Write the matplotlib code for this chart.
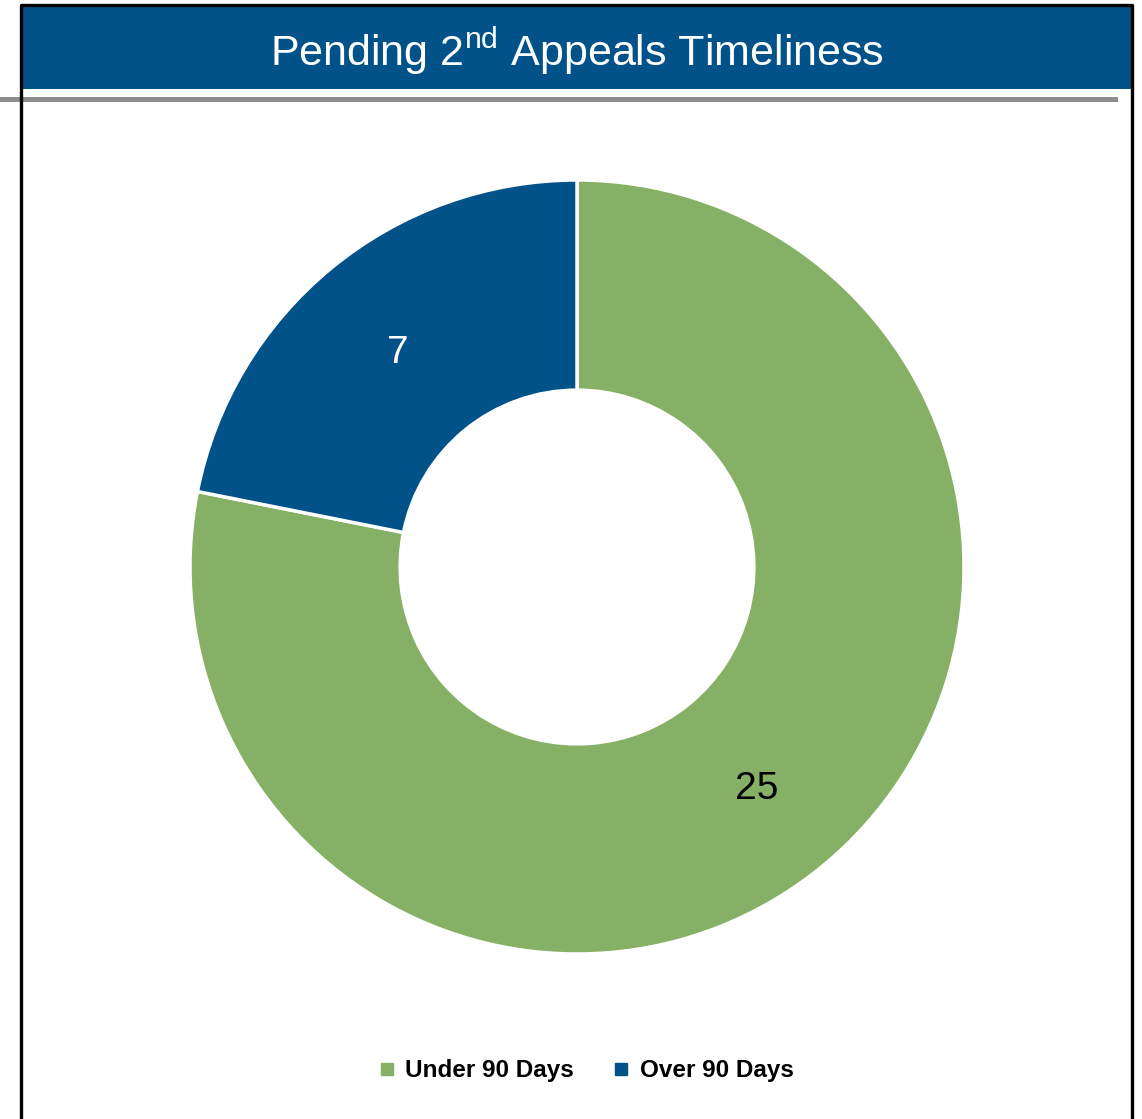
import matplotlib.pyplot as plt
from matplotlib.lines import Line2D
from matplotlib.patches import Rectangle

categories = ["Under 90 Days", "Over 90 Days"]
values = [25, 7]
colors = ["#86B065", "#02528A"]
label_colors = ["black", "white"]
title = r"Pending 2$^{\mathregular{nd}}$ Appeals Timeliness"

W, H = 1142, 1119
fig = plt.figure(figsize=(W / 100, H / 100), dpi=100)
plt.rcParams['font.family'] = ['Liberation Sans', 'DejaVu Sans']


def fx(px):
    return px / W


def fy(py):
    return 1 - py / H


# header band, grey rule and frame
fig.patches.append(Rectangle((fx(22), fy(89)), fx(1110), 83 / H, transform=fig.transFigure,
                             facecolor="#02528A", edgecolor="none", zorder=0))
fig.lines.append(Line2D([fx(0), fx(1115)], [fy(99), fy(99)], transform=fig.transFigure,
                        color="#8E8E90", lw=3.6))
fig.lines.append(Line2D([fx(21), fx(21), fx(1132), fx(1132)], [fy(1119), fy(5), fy(5), fy(1119)],
                        transform=fig.transFigure, color="black", lw=2.4))
fig.text(fx(577), fy(51), title, color="white", fontsize=31, ha="center", va="center")

# donut
cx, cy, r = 577, 567, 387
ax = fig.add_axes([fx(cx - r), fy(cy + r), 2 * r / W, 2 * r / H])
total = sum(values)
wedges, texts, autotexts = ax.pie(values, colors=colors, startangle=90, counterclock=False,
                                  radius=1, wedgeprops=dict(width=0.543, edgecolor="white", linewidth=2.5),
                                  autopct=lambda p: "%d" % round(p * total / 100), pctdistance=0.73)
for t, c in zip(autotexts, label_colors):
    t.set_color(c)
    t.set_fontsize(28)
    t.set_va("center_baseline")
ax.set_xlim(-1, 1)
ax.set_ylim(-1, 1)
ax.axis("off")

handles = [Line2D([], [], marker="s", linestyle="none", markersize=8, markerfacecolor=c,
                  markeredgecolor=c) for c in colors]
fig.legend(handles, categories, loc="center", bbox_to_anchor=(fx(586), fy(1071)), ncol=2,
           frameon=False, prop=dict(weight="bold", size=17.5), handlelength=0.7,
           handletextpad=0.4, columnspacing=1.6)

fig.savefig("out.png", dpi=100)
